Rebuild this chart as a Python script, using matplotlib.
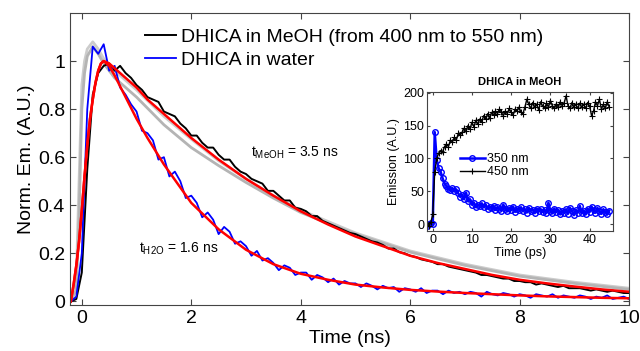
import numpy as np
import matplotlib.pyplot as plt

plt.rcParams['font.family'] = ['Liberation Sans', 'DejaVu Sans']

# main panel: time grid of the measured traces (ns)
t_data = np.round(np.arange(-0.2, 10.001, 0.1), 2)

meoh_data = [0.00, 0.01, 0.12, 0.55, 0.86, 0.95, 0.98,
             0.99, 0.96, 0.98, 0.95, 0.93,
             0.90, 0.88, 0.85, 0.84, 0.83, 0.79, 0.78, 0.77, 0.74, 0.72,
             0.69, 0.69, 0.66, 0.64, 0.64, 0.61, 0.59, 0.59, 0.56, 0.54,
             0.53, 0.51, 0.50, 0.49, 0.46, 0.46, 0.44, 0.42, 0.42, 0.39,
             0.385, 0.375, 0.355, 0.355, 0.335, 0.325, 0.315, 0.305, 0.295, 0.285,
             0.28, 0.27, 0.26, 0.25, 0.245, 0.235, 0.22, 0.22, 0.205, 0.20,
             0.19, 0.185, 0.175, 0.17, 0.165, 0.155, 0.155, 0.145, 0.14, 0.135,
             0.13, 0.125, 0.12, 0.11, 0.11, 0.105, 0.10, 0.095, 0.095, 0.085,
             0.085, 0.08, 0.08, 0.07, 0.075, 0.07, 0.065, 0.06, 0.065, 0.055,
             0.055, 0.055, 0.05, 0.045, 0.05, 0.045, 0.04, 0.045, 0.04, 0.035,
             0.035]

water_data = [0.00, 0.02, 0.20, 0.80, 1.06, 1.03, 1.07,
              0.96, 0.98, 0.89, 0.86, 0.82,
              0.79, 0.71, 0.70, 0.67, 0.59, 0.60, 0.52, 0.54, 0.50, 0.43,
              0.44, 0.41, 0.35, 0.37, 0.34, 0.28, 0.31, 0.29, 0.24, 0.25,
              0.23, 0.19, 0.21, 0.17, 0.18, 0.16, 0.13, 0.15, 0.14, 0.11,
              0.12, 0.12, 0.09, 0.11, 0.10, 0.08, 0.095, 0.07, 0.085, 0.075,
              0.075, 0.06, 0.075, 0.065, 0.05, 0.065, 0.055, 0.06, 0.04, 0.055,
              0.05, 0.04, 0.055, 0.035, 0.045, 0.045, 0.03, 0.045, 0.035, 0.04,
              0.03, 0.04, 0.035, 0.02, 0.04, 0.03, 0.025, 0.035, 0.03, 0.02,
              0.03, 0.025, 0.015, 0.03, 0.025, 0.02, 0.03, 0.015, 0.025, 0.02,
              0.015, 0.025, 0.02, 0.01, 0.02, 0.015, 0.025, 0.01, 0.015, 0.02,
              0.01]

# grey traces (other wavelengths, 400-550 nm)
t_grey = [-0.2, -0.1, -0.05, 0.0, 0.05, 0.1, 0.2, 0.3, 0.4, 0.6, 0.8, 1.0,
          1.5, 2.0, 2.5, 3.0, 3.5, 4.0, 5.0, 6.0, 7.0, 8.0, 9.0, 10.0]
grey_a = [0.0, 0.10, 0.50, 0.90, 1.00, 1.05, 1.08, 1.05, 1.01, 0.96, 0.92,
          0.88, 0.77, 0.675, 0.585, 0.51, 0.44, 0.38, 0.285, 0.21, 0.155,
          0.11, 0.08, 0.055]
grey_b = [0.0, 0.05, 0.35, 0.80, 0.95, 1.02, 1.06, 1.03, 0.99, 0.93, 0.89,
          0.85, 0.735, 0.64, 0.565, 0.495, 0.43, 0.37, 0.28, 0.205, 0.15,
          0.105, 0.075, 0.05]

# red fits
t_fit = [-0.2, -0.15, -0.1, -0.05, 0.0, 0.05, 0.1, 0.15, 0.2, 0.25, 0.3,
         0.35, 0.4, 0.5, 0.6, 0.8, 1.0, 1.2, 1.5, 2.0, 2.5, 3.0, 3.5, 4.0,
         4.5, 5.0, 5.5, 6.0, 6.5, 7.0, 7.5, 8.0, 8.5, 9.0, 9.5, 10.0]
fit_meoh = [0.0, 0.07, 0.15, 0.25, 0.38, 0.52, 0.65, 0.76, 0.84, 0.91,
            0.96, 0.99, 1.0, 0.99, 0.97, 0.93, 0.89, 0.84, 0.78, 0.68,
            0.59, 0.51, 0.44, 0.375, 0.32, 0.27, 0.23, 0.19, 0.16, 0.135,
            0.11, 0.09, 0.075, 0.062, 0.05, 0.04]
fit_water = [0.0, 0.07, 0.15, 0.25, 0.38, 0.52, 0.65, 0.76, 0.84, 0.91,
             0.96, 0.99, 1.0, 0.98, 0.94, 0.85, 0.76, 0.68, 0.57, 0.41,
             0.30, 0.215, 0.155, 0.115, 0.09, 0.07, 0.058, 0.048, 0.041,
             0.035, 0.03, 0.025, 0.021, 0.018, 0.015, 0.013]

# inset: time grid (ps)
t_inset = np.round(np.arange(-1.5, 45.001, 0.5), 2)
em_350 = [-3, 0, 2, 0, 140, 98, 85, 80, 70, 62,
          58, 53, 52, 55, 50, 53, 47, 42, 45, 38,
          48, 35, 38, 30, 33, 26, 30, 28, 32, 26,
          30, 24, 27, 25, 28, 22, 26, 24, 21, 30,
          23, 20, 25, 22, 27, 19, 24, 22, 26, 20,
          23, 18, 25, 21, 22, 17, 24, 20, 23, 19,
          22, 18, 33, 20, 17, 24, 19, 22, 15, 21,
          18, 23, 16, 25, 20, 14, 22, 18, 28, 17,
          21, 15, 24, 19, 27, 22, 18, 25, 20, 16,
          23, 19, 15, 21]
em_450 = [2, -2, 3, 15, 80, 100, 108, 112, 110, 118,
          122, 118, 128, 125, 132, 128, 138, 135, 140, 146,
          142, 150, 145, 155, 148, 158, 152, 160, 156, 165,
          160, 168, 162, 170, 166, 172, 168, 175, 170, 165,
          172, 168, 176, 170, 166, 175, 172, 178, 170, 168,
          178, 190, 182, 176, 185, 178, 182, 174, 186, 180,
          176, 184, 178, 188, 180, 176, 183, 178, 186, 180,
          184, 195, 180, 176, 185, 178, 182, 176, 184, 178,
          182, 176, 185, 180, 165, 172, 186, 180, 190, 175,
          182, 176, 186, 178]

spine_col = '#444444'


def style_box(ax, size):
    for s in ax.spines.values():
        s.set_color(spine_col)
        s.set_linewidth(0.8)
    ax.tick_params(direction='in', top=True, right=True, labelsize=size,
                   color=spine_col, length=4)


fig = plt.figure(figsize=(6.4, 3.51), dpi=100)
ax = fig.add_axes([0.109, 0.131, 0.874, 0.832])

ax.plot(t_grey, grey_a, color='#cccccc', lw=2)
ax.plot(t_grey, grey_b, color='#b4b4b4', lw=2)
ax.plot(t_data, meoh_data, color='black', lw=1.4,
        label='DHICA in MeOH (from 400 nm to 550 nm)')
ax.plot(t_data, water_data, color='#0000ff', lw=1.3, label='DHICA in water')
ax.plot(t_fit, fit_meoh, color='#ff0000', lw=1.8)
ax.plot(t_fit, fit_water, color='#ff0000', lw=1.8)

ax.set_xlim(-0.22, 10)
ax.set_ylim(-0.015, 1.2)
ax.set_xticks([0, 2, 4, 6, 8, 10])
ax.set_yticks([0, 0.2, 0.4, 0.6, 0.8, 1])
ax.set_yticklabels(['0', '0.2', '0.4', '0.6', '0.8', '1'])
style_box(ax, 14)
ax.set_xlabel('Time (ns)', fontsize=14, labelpad=2)
ax.set_ylabel('Norm. Em. (A.U.)', fontsize=14, labelpad=2)

ax.legend(loc='upper left', bbox_to_anchor=(0.12, 0.975), frameon=False,
          fontsize=14, handlelength=1.6, handletextpad=0.25,
          labelspacing=0.3, borderaxespad=0)

ax.text(3.1, 0.62, r'$\mathregular{t_{MeOH}}$ = 3.5 ns', fontsize=10,
        va='center')
ax.text(1.05, 0.22, r'$\mathregular{t_{H2O}}$ = 1.6 ns', fontsize=10,
        va='center')

# inset
ins = fig.add_axes([0.667, 0.342, 0.291, 0.396])
ins.plot(t_inset, em_350, color='#0000ff', lw=1.8, marker='o', ms=4,
         mfc='none', mew=1, label='350 nm')
ins.plot(t_inset, em_450, color='black', lw=1, marker='+', ms=5,
         mew=0.8, label='450 nm')
ins.set_xlim(-1.5, 46)
ins.set_ylim(-10, 201)
ins.set_xticks([0, 10, 20, 30, 40])
ins.set_yticks([0, 50, 100, 150, 200])
style_box(ins, 9)
ins.tick_params(length=2.5, pad=2)
ins.set_title('DHICA in MeOH', fontsize=8, fontweight='bold', pad=5)
ins.set_xlabel('Time (ps)', fontsize=9, labelpad=1)
ins.set_ylabel('Emission (A.U.)', fontsize=9, labelpad=2)
ins.legend(loc='center left', bbox_to_anchor=(0.15, 0.47), frameon=False,
           fontsize=9, handlelength=2.0, handletextpad=0.2,
           labelspacing=0.1, borderaxespad=0)

fig.savefig('out.png', dpi=100)
